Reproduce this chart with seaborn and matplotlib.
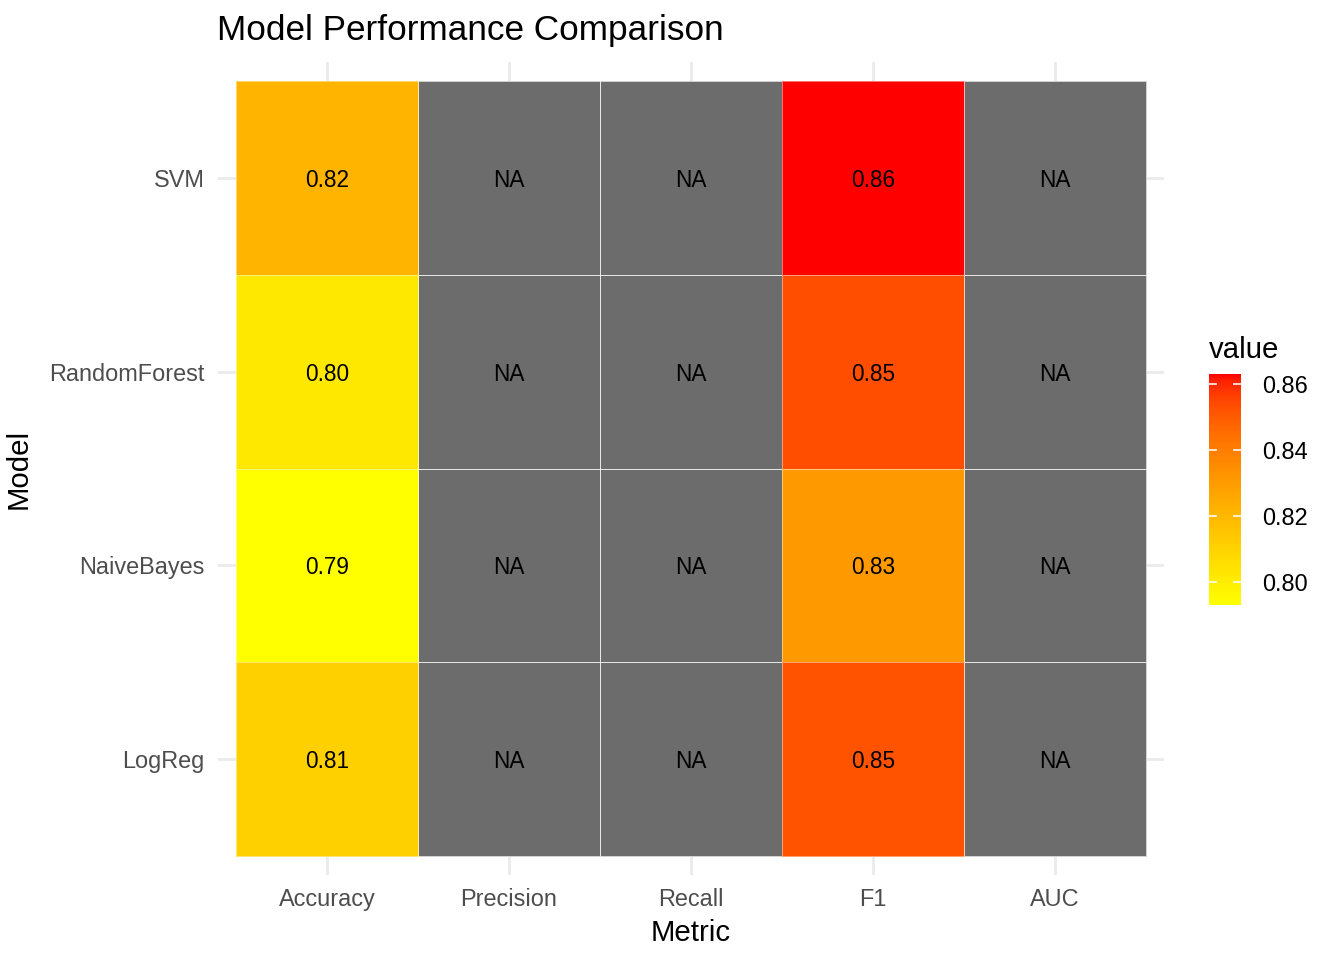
import numpy as np
import pandas as pd
import matplotlib
matplotlib.use("Agg")
import matplotlib.pyplot as plt
from matplotlib.colors import ListedColormap
import seaborn as sns

models = ["SVM", "RandomForest", "NaiveBayes", "LogReg"]
metrics = ["Accuracy", "Precision", "Recall", "F1", "AUC"]
accuracy = [0.821, 0.802, 0.793, 0.811]
f1 = [0.863, 0.853, 0.831, 0.852]


def srgb_to_lab(rgb):
    c = np.asarray(rgb, dtype=float)
    lin = np.where(c <= 0.04045, c / 12.92, ((c + 0.055) / 1.055) ** 2.4)
    m = np.array([[0.4124564, 0.3575761, 0.1804375],
                  [0.2126729, 0.7151522, 0.0721750],
                  [0.0193339, 0.1191920, 0.9503041]])
    xyz = m @ lin / np.array([0.95047, 1.0, 1.08883])
    f = np.where(xyz > 216 / 24389, np.cbrt(xyz), (24389 / 27 * xyz + 16) / 116)
    return np.array([116 * f[1] - 16, 500 * (f[0] - f[1]), 200 * (f[1] - f[2])])


def lab_to_srgb(lab):
    L, a, b = lab
    fy = (L + 16) / 116
    fx = fy + a / 500
    fz = fy - b / 200
    f = np.array([fx, fy, fz])
    xyz = np.where(f ** 3 > 216 / 24389, f ** 3, (116 * f - 16) / (24389 / 27))
    xyz = xyz * np.array([0.95047, 1.0, 1.08883])
    minv = np.array([[3.2404542, -1.5371385, -0.4985314],
                     [-0.9692660, 1.8760108, 0.0415560],
                     [0.0556434, -0.2040259, 1.0572252]])
    lin = np.clip(minv @ xyz, 0, 1)
    c = np.where(lin <= 0.0031308, 12.92 * lin, 1.055 * lin ** (1 / 2.4) - 0.055)
    return np.clip(c, 0, 1)


# yellow -> red gradient interpolated in Lab like ggplot's scale_fill_gradient
lo, hi = srgb_to_lab([1, 1, 0]), srgb_to_lab([1, 0, 0])
cmap = ListedColormap([lab_to_srgb(lo + t * (hi - lo)) for t in np.linspace(0, 1, 256)])

df = pd.DataFrame(np.nan, index=models, columns=metrics)
df["Accuracy"] = accuracy
df["F1"] = f1

vals = df.values
na_mask = np.isnan(vals)
val_labels = np.where(na_mask, "", np.vectorize(lambda v: f"{v:.2f}")(np.nan_to_num(vals)))
na_labels = np.where(na_mask, "NA", "")

plt.rcParams["font.family"] = ["Liberation Sans", "DejaVu Sans"]
fig = plt.figure(figsize=(7, 5), dpi=192)
ax = fig.add_axes([217.8 / 1344, (960 - 875.4) / 960, 946.4 / 1344, 813.8 / 960])
cax = fig.add_axes([1209 / 1344, (960 - 605) / 960, 32 / 1344, 231 / 960])

# grid lines behind tiles (theme_minimal style)
for i in range(len(metrics)):
    ax.axvline(i + 0.5, color="#EBEBEB", lw=1.07, zorder=0)
for j in range(len(models)):
    ax.axhline(j + 0.5, color="#EBEBEB", lw=1.07, zorder=0)

text_kw = {"color": "black", "fontsize": 8.5, "va": "center_baseline"}
border = (1, 1, 1, 0.45)
na_df = pd.DataFrame(np.where(na_mask, 1.0, np.nan), index=models, columns=metrics)
sns.heatmap(na_df, ax=ax, cmap=ListedColormap(["#6C6C6C"]), cbar=False,
            annot=na_labels, fmt="", annot_kws=text_kw,
            linewidths=0.3, linecolor=border)
sns.heatmap(df, ax=ax, cmap=cmap, vmin=min(accuracy + f1), vmax=max(accuracy + f1),
            annot=val_labels, fmt="", annot_kws=text_kw,
            linewidths=0.3, linecolor=border, cbar_ax=cax)

ax.set_xlim(-0.1, len(metrics) + 0.1)
ax.set_ylim(len(models) + 0.1, -0.1)
for c in ax.collections:
    c.set_zorder(1)
for s in ax.spines.values():
    s.set_visible(False)
ax.tick_params(length=0, labelsize=8.8, labelcolor="#4D4D4D")
ax.tick_params(axis="x", pad=4.8)
ax.tick_params(axis="y", pad=5, labelrotation=0)
for lab in ax.get_yticklabels():
    lab.set_va("center_baseline")
ax.set_xlabel("Metric", fontsize=11, labelpad=3)
ax.set_ylabel("Model", fontsize=11, labelpad=6)

cbar = ax.collections[-1].colorbar
cbar.outline.set_visible(False)
cbar.set_ticks([0.80, 0.82, 0.84, 0.86])
cbar.set_ticklabels(["0.80", "0.82", "0.84", "0.86"])
cax.tick_params(left=True, right=True, labelleft=False, direction="in",
                color="white", length=3, width=0.6, labelsize=8.8, pad=8)
for lab in cax.get_yticklabels():
    lab.set_va("center_baseline")

fig.text(1209 / 1344, (960 - 358) / 960, "value", fontsize=11, va="baseline")
fig.text(217 / 1344, (960 - 40) / 960, "Model Performance Comparison",
         fontsize=13.2, va="baseline")

fig.savefig("out.png", dpi=192)
